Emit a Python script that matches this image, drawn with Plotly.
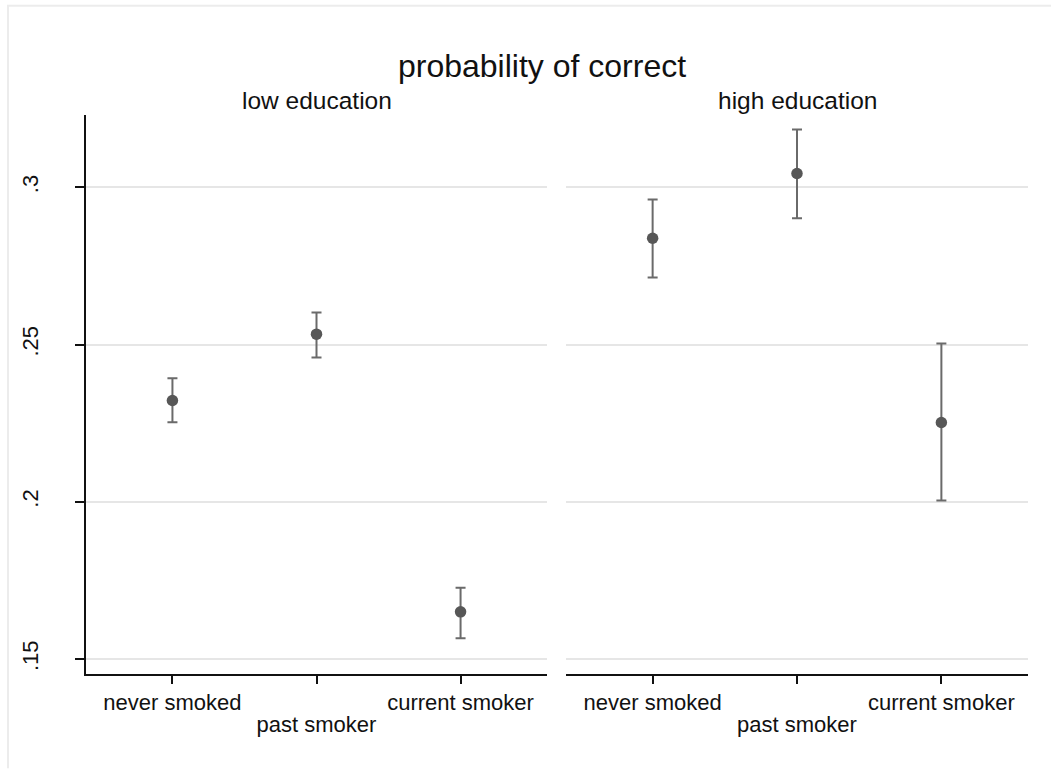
import plotly.graph_objects as go

# Smoking status categories and estimated probabilities with 95% CIs
categories = ["never smoked", "past smoker", "current smoker"]
panels = ["low education", "high education"]

low_est = [0.2322, 0.2533, 0.1650]
low_lo = [0.2253, 0.2459, 0.1566]
low_hi = [0.2393, 0.2602, 0.1727]

high_est = [0.2838, 0.3044, 0.2252]
high_lo = [0.2713, 0.2902, 0.2004]
high_hi = [0.2961, 0.3184, 0.2503]

y_ticks = [0.15, 0.20, 0.25, 0.30]
y_ticktext = [".15", ".2", ".25", ".3"]

FONT = "Liberation Sans, Arial, Helvetica, sans-serif"
W, H = 1051, 769
ML, MR, MT, MB = 86, 23, 114.5, 94.5
PW, PH = W - ML - MR, H - MT - MB

xpos = [i + 1 for i in range(len(categories))]
xrange_ = [0.4, 3.6]
yrange_ = [0.14524, 0.3230]

MARKER = "#575757"
BAR = "#6a6a6a"
GRID = "#e6e6e6"

fig = go.Figure()


def add_panel(est, lo, hi, xa, ya):
    fig.add_trace(go.Scatter(
        x=xpos, y=est, mode="markers",
        marker=dict(color=MARKER, size=11.5),
        error_y=dict(type="data", symmetric=False,
                     array=[h - e for h, e in zip(hi, est)],
                     arrayminus=[e - l for e, l in zip(est, lo)],
                     color=BAR, thickness=2, width=5),
        xaxis=xa, yaxis=ya, showlegend=False, hoverinfo="skip",
    ))


add_panel(low_est, low_lo, low_hi, "x", "y")
add_panel(high_est, high_lo, high_hi, "x2", "y2")

# empty traces so the staggered-label axes get drawn
for xa, ya in [("x3", "y"), ("x4", "y2")]:
    fig.add_trace(go.Scatter(x=[xpos[1]], y=[None], mode="markers",
                             xaxis=xa, yaxis=ya, showlegend=False,
                             hoverinfo="skip"))

d1 = [0, (547 - ML) / PW]
d2 = [(566 - ML) / PW, 1]

tick_font = dict(family=FONT, size=22, color="#111111")

xbase = dict(range=xrange_, tickmode="array", tickvals=xpos,
             showgrid=False, zeroline=False, showline=True, linecolor="#111111",
             linewidth=1.5, ticks="outside", ticklen=8, tickwidth=1.5,
             tickcolor="#111111", tickfont=tick_font, ticklabelstandoff=0)
# alternate labels: first and last on the upper row, middle one lower
upper_text = [categories[0], "", categories[2]]
lower = dict(range=xrange_, side="bottom", tickmode="array",
             tickvals=[xpos[1]], ticktext=[categories[1]], ticks="",
             showline=False, showgrid=False, zeroline=False,
             tickfont=tick_font, ticklabelstandoff=35)

fig.update_layout(
    width=W, height=H,
    margin=dict(l=ML, r=MR, t=MT, b=MB),
    paper_bgcolor="white", plot_bgcolor="white",
    font=dict(family=FONT, color="#111111"),
    title=dict(text="probability of correct", x=542 / W,
               xanchor="center", y=1 - 66 / H, yanchor="middle", yref="container",
               font=dict(family=FONT, size=32, color="#111111")),
    xaxis=dict(xbase, domain=d1, anchor="y", ticktext=upper_text),
    xaxis2=dict(xbase, domain=d2, anchor="y2", ticktext=upper_text),
    xaxis3=dict(lower, domain=d1, anchor="y", overlaying="x"),
    xaxis4=dict(lower, domain=d2, anchor="y2", overlaying="x2"),
    yaxis=dict(range=yrange_, domain=[0, 1], anchor="x", tickmode="array",
               tickvals=y_ticks, ticktext=y_ticktext, tickangle=-90,
               showgrid=True, gridcolor=GRID, gridwidth=1.5, zeroline=False,
               showline=True, linecolor="#111111", linewidth=1.5,
               ticks="outside", ticklen=9, tickwidth=1.5, tickcolor="#111111",
               tickfont=tick_font, ticklabelstandoff=28),
    yaxis2=dict(range=yrange_, domain=[0, 1], anchor="x2", matches="y",
                tickmode="array", tickvals=y_ticks, showticklabels=False,
                showgrid=True, gridcolor=GRID, gridwidth=1.5, zeroline=False,
                showline=False, ticks=""),
)

# panel titles
for name, dom in zip(panels, [d1, d2]):
    fig.add_annotation(text=name, x=(dom[0] + dom[1]) / 2, y=1 + 14.5 / PH,
                       xref="paper", yref="paper", xanchor="center",
                       yanchor="middle", showarrow=False,
                       font=dict(family=FONT, size=24.5, color="#111111"))

# light frame along the top and left of the graph region
def px_x(p):
    return (p - ML) / PW


def px_y(p):
    return (H - MB - p) / PH


fig.add_shape(type="line", xref="paper", yref="paper",
              x0=px_x(7), x1=px_x(W), y0=px_y(5), y1=px_y(5),
              line=dict(color="#ececec", width=2))
fig.add_shape(type="line", xref="paper", yref="paper",
              x0=px_x(8), x1=px_x(8), y0=px_y(5), y1=px_y(H),
              line=dict(color="#ececec", width=2))

fig.write_html("out.html")
